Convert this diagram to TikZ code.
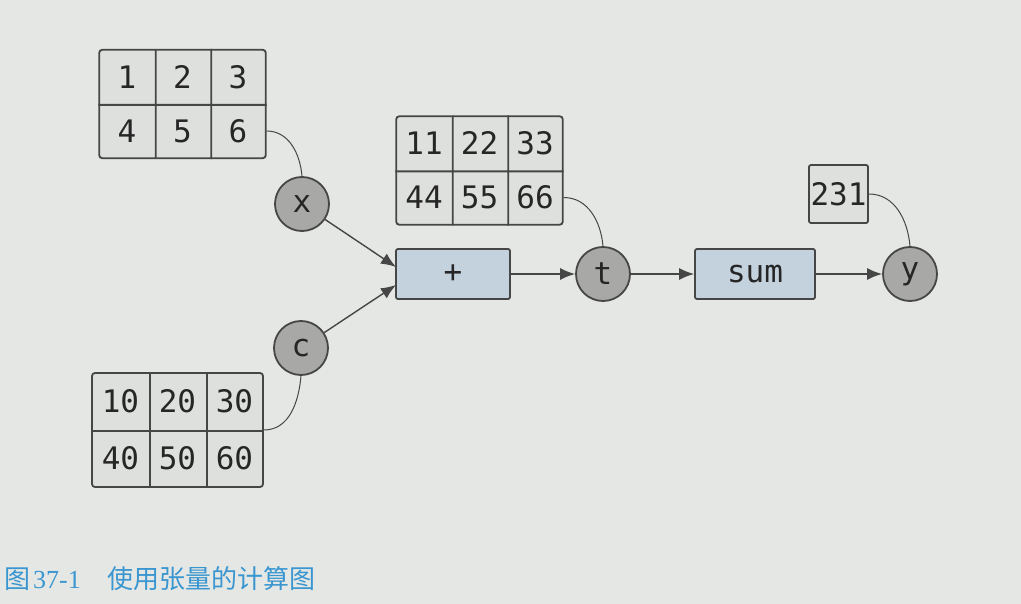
\documentclass[tikz,border=0pt]{standalone}
\usepackage{fontspec}
\setmonofont{DejaVu Sans Mono}
\newfontfamily\cjk{Noto Sans CJK SC}
\newfontfamily\capserif{Liberation Serif}
\usetikzlibrary{matrix,arrows.meta,calc}
\definecolor{bg}{RGB}{229,231,228}
\definecolor{cellc}{RGB}{222,224,221}
\definecolor{linec}{RGB}{70,70,70}
\definecolor{circc}{RGB}{168,168,166}
\definecolor{boxc}{RGB}{196,210,222}
\definecolor{capblue}{RGB}{58,150,208}
\newcommand{\tensorgrid}[1]{%
  \draw[gridline] (#1-1-1.north east) -- (#1-2-1.south east)
                  (#1-1-2.north east) -- (#1-2-2.south east)
                  (#1-1-1.south west) -- (#1-1-3.south east);}
\begin{document}
\begin{tikzpicture}[x=1pt,y=-1pt,
  lbl/.style={font=\ttfamily\fontsize{31}{31}\selectfont, text=black!85},
  cell/.style={lbl, inner sep=0pt, minimum width=55.5pt, minimum height=54pt},
  bigcell/.style={cell, minimum width=57pt, minimum height=57pt},
  tensor/.style={matrix of nodes, column sep=0pt, row sep=0pt, inner sep=0pt,
    draw=linec, fill=cellc, line width=1.8pt, rounded corners=3pt},
  gridline/.style={draw=linec, line width=1.8pt},
  var/.style={lbl, circle, draw=linec, fill=circc, line width=1.8pt, inner sep=0pt, minimum size=54pt},
  fn/.style={lbl, rectangle, rounded corners=2pt, draw=linec, fill=boxc, line width=1.8pt, inner sep=0pt, minimum height=50pt},
  valbox/.style={lbl, rectangle, rounded corners=2pt, draw=linec, fill=cellc, line width=1.8pt, inner sep=0pt},
  link/.style={draw=linec, line width=1pt},
  flow/.style={draw=linec, line width=1.4pt, -{Latex[length=15pt,width=12pt]}}
]
\fill[bg] (0,0) rectangle (1021,604);
\useasboundingbox (0,0) rectangle (1021,604);

\matrix (m1) [tensor, nodes={cell}] at (182.5,104) {1 & 2 & 3\\ 4 & 5 & 6\\};
\matrix (m2) [tensor, nodes={cell}] at (479.5,170.5) {11 & 22 & 33\\ 44 & 55 & 66\\};
\matrix (m3) [tensor, nodes={bigcell}] at (177.5,430) {10 & 20 & 30\\ 40 & 50 & 60\\};
\tensorgrid{m1}
\tensorgrid{m2}
\tensorgrid{m3}

\node[var] (x) at (302,204) {x};
\node[var] (c) at (301,348) {c};
\node[var] (t) at (603,274) {t};
\node[var] (y) at (910,274) {y};

\node[fn, minimum width=114pt] (plus) at (453,274) {+};
\node[fn, minimum width=120pt] (sum) at (755,274) {sum};
\node[valbox, minimum width=59pt, minimum height=58pt] (r) at (838.5,194) {231};

\coordinate (pin1) at (396,267);
\coordinate (pin2) at (396,285);

\draw[link] (m1-2-3.east) to[out=0,in=95] (x.north);
\draw[link] (m2-2-3.east) to[out=0,in=95] (t.north);
\draw[link] (r.east) to[out=0,in=95] (y.north);
\draw[link] (m3.east) to[out=0,in=-95] (c.south);

\draw[flow] (x) -- (pin1);
\draw[flow] (c) -- (pin2);
\draw[flow] (plus) -- (t);
\draw[flow] (t) -- (sum);
\draw[flow] (sum) -- (y);

\node[anchor=base west, text=capblue, inner sep=0pt] (cap) at (4,588)
  {\fontsize{26}{26}\selectfont\cjk 图\hspace{3pt}\capserif 37-1\hspace{27pt}\cjk 使用张量的计算图};
\end{tikzpicture}
\end{document}
